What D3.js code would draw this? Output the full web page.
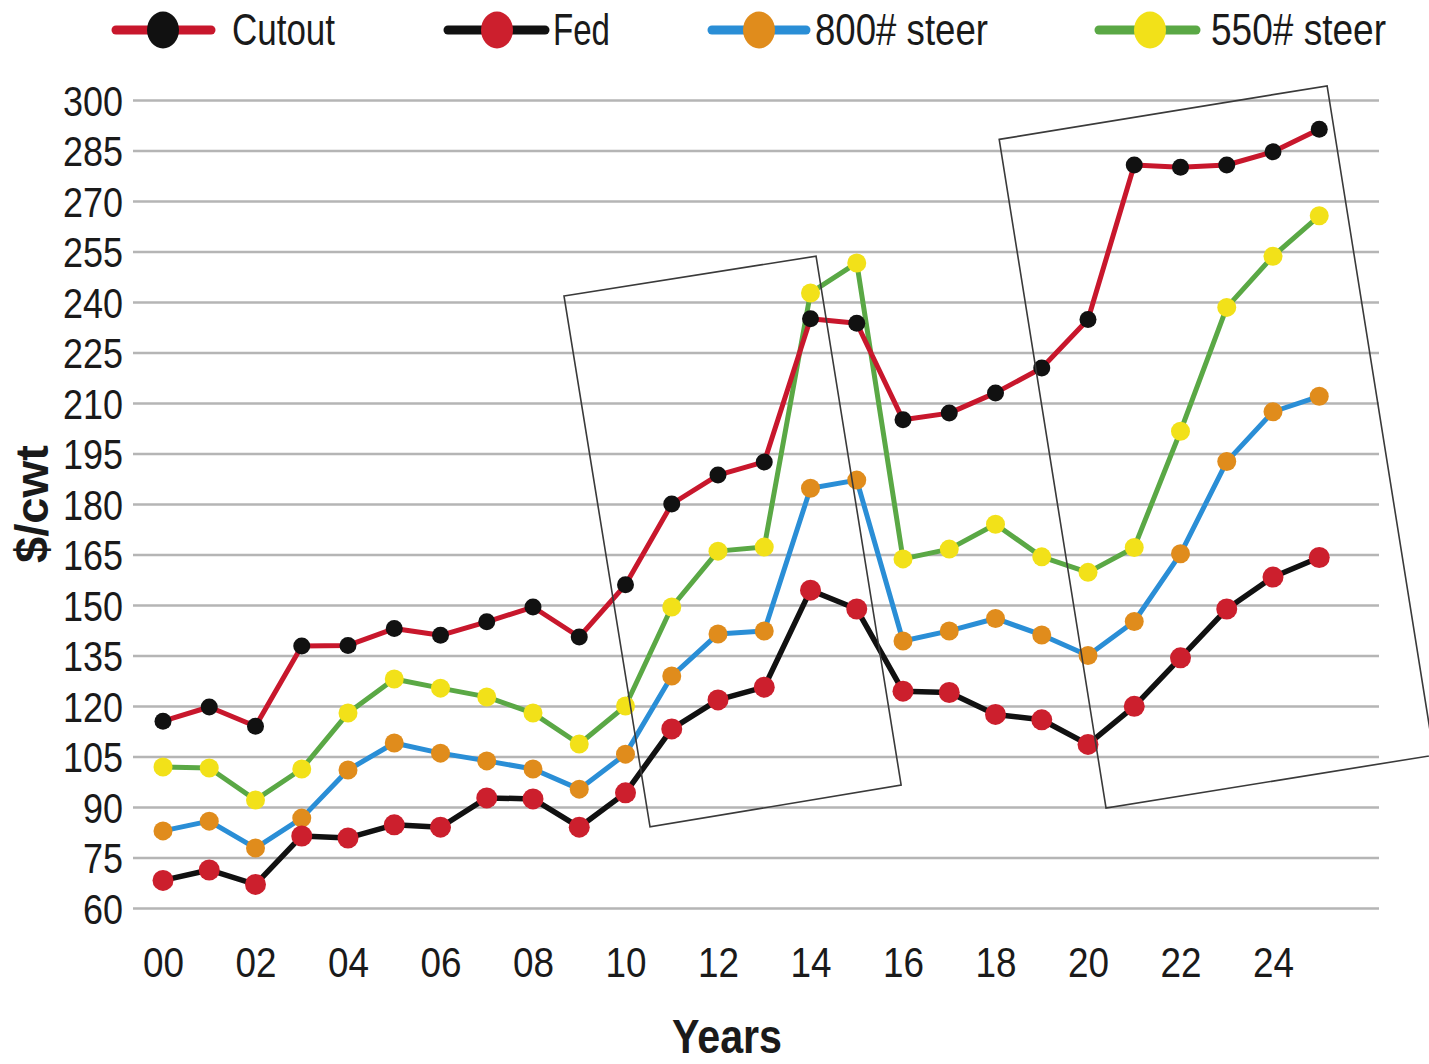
<!DOCTYPE html>
<html>
<head>
<meta charset="utf-8">
<script src="https://cdn.jsdelivr.net/npm/d3@7"></script>
<style>
  html, body { margin: 0; padding: 0; background: #fff; }
  svg { display: block; }
  text { font-family: "Liberation Sans", Arial, sans-serif; fill: #1a1a1a; }
</style>
</head>
<body>
<svg id="chart" width="1429" height="1064"></svg>
<script>
// ---- data ----
const years = d3.range(0, 26); // 2000 .. 2025
const xTickValues = [0, 2, 4, 6, 8, 10, 12, 14, 16, 18, 20, 22, 24];
const xTickLabels = ["00", "02", "04", "06", "08", "10", "12", "14", "16", "18", "20", "22", "24"];
const yTickValues = [60, 75, 90, 105, 120, 135, 150, 165, 180, 195, 210, 225, 240, 255, 270, 285, 300];

const seriesNames = ["Cutout", "Fed", "800# steer", "550# steer"];

const cutout = [115.5, 119.7, 114, 137.8, 138, 143, 141, 145, 149.4, 140.5, 156, 180, 188.6, 192.5, 235, 233.7, 205, 207, 213, 220.4, 234.8, 280.7, 280, 280.7, 284.6, 291.3];
const fed = [68.2, 71.3, 67, 81.4, 80.8, 84.7, 84, 92.7, 92.4, 84, 94.2, 113.2, 121.8, 125.6, 154.4, 148.8, 124.4, 124, 117.5, 115.9, 108.6, 119.9, 134.3, 148.8, 158.3, 164.1];
const steer800 = [82.9, 85.8, 77.8, 86.7, 101, 109, 106, 103.7, 101.3, 95.3, 105.7, 128.9, 141.4, 142.3, 184.7, 187.1, 139.3, 142.3, 146, 141.1, 135, 145.1, 165.2, 192.6, 207.4, 212];
const steer550 = [101.9, 101.6, 92.1, 101.3, 117.9, 128, 125.3, 122.7, 117.9, 108.7, 120, 149.4, 166, 167.2, 242.7, 251.6, 163.7, 166.6, 174, 164.3, 159.7, 167.1, 201.6, 238.4, 253.6, 265.6];

// annotation boxes, corners in (year, $/cwt)
const box1 = [[8.67, 241.8], [14.12, 253.6], [15.96, 96.5], [10.53, 84.1]];
const box2 = [[18.08, 288.3], [25.17, 304.2], [27.48, 105.4], [20.39, 89.7]];

// ---- styles ----
const lineColors = ["#c8172c", "#111111", "#2a8ed6", "#5aa845"];
const dotColors = ["#111111", "#cc1f2d", "#e08c1c", "#f2e119"];
const digitW = 20; // condensed digit advance

const svg = d3.select("#chart");

const x = d3.scaleLinear().domain([0, 24]).range([163, 1273]);
const y = d3.scaleLinear().domain([60, 300]).range([908, 100]);

// gridlines + y labels
const gridLeft = 133, gridRight = 1379;
const yAxis = d3.axisLeft(y)
  .tickValues(yTickValues)
  .tickSize(-(gridRight - gridLeft))
  .tickPadding(10)
  .tickFormat(d3.format("d"));
const gy = svg.append("g").attr("transform", `translate(${gridLeft},0)`).call(yAxis);
gy.select(".domain").remove();
gy.selectAll(".tick line").attr("stroke", "#b5b5b5").attr("stroke-width", 2.6);
gy.selectAll(".tick text")
  .attr("font-size", 42).attr("fill", "#1a1a1a").attr("dy", "0.36em")
  .attr("font-family", "Liberation Sans, Arial, sans-serif")
  .attr("textLength", d => String(d).length * digitW)
  .attr("lengthAdjust", "spacingAndGlyphs");

// x labels
const xAxis = d3.axisBottom(x)
  .tickValues(xTickValues)
  .tickSize(0)
  .tickPadding(0)
  .tickFormat((d, i) => xTickLabels[i]);
const gx = svg.append("g").attr("transform", `translate(0,${908})`).call(xAxis);
gx.select(".domain").remove();
gx.selectAll(".tick text")
  .attr("font-size", 43).attr("fill", "#1a1a1a").attr("dy", 0).attr("y", 69)
  .attr("font-family", "Liberation Sans, Arial, sans-serif")
  .attr("textLength", 2 * digitW + 1)
  .attr("lengthAdjust", "spacingAndGlyphs");

// axis titles
svg.append("text")
  .attr("x", 727).attr("y", 1053)
  .attr("text-anchor", "middle")
  .attr("font-size", 48).attr("font-weight", "bold")
  .attr("fill", "#111")
  .attr("textLength", 110).attr("lengthAdjust", "spacingAndGlyphs")
  .text("Years");

svg.append("text")
  .attr("transform", "translate(48,504) rotate(-90)")
  .attr("text-anchor", "middle")
  .attr("font-size", 46).attr("font-weight", "bold")
  .attr("fill", "#111")
  .attr("textLength", 118).attr("lengthAdjust", "spacingAndGlyphs")
  .text("$/cwt");

// series (drawn bottom to top)
const series = [
  { name: seriesNames[3], values: steer550, line: lineColors[3], dot: dotColors[3], r: 9.5, w: 5 },
  { name: seriesNames[2], values: steer800, line: lineColors[2], dot: dotColors[2], r: 9.5, w: 5 },
  { name: seriesNames[1], values: fed, line: lineColors[1], dot: dotColors[1], r: 10.5, w: 5.5 },
  { name: seriesNames[0], values: cutout, line: lineColors[0], dot: dotColors[0], r: 8.5, w: 5 }
];

const line = d3.line().x((d, i) => x(years[i])).y(d => y(d));

series.forEach(s => {
  const g = svg.append("g");
  g.append("path")
    .datum(s.values)
    .attr("d", line)
    .attr("fill", "none")
    .attr("stroke", s.line)
    .attr("stroke-width", s.w)
    .attr("stroke-linejoin", "round");
  g.selectAll("circle")
    .data(s.values)
    .join("circle")
    .attr("cx", (d, i) => x(years[i]))
    .attr("cy", d => y(d))
    .attr("r", s.r)
    .attr("fill", s.dot);
});

// annotation boxes
const poly = d3.line().x(d => x(d[0])).y(d => y(d[1]));
[box1, box2].forEach(b => {
  svg.append("path")
    .attr("d", poly(b) + "Z")
    .attr("fill", "none")
    .attr("stroke", "#3a3a3a")
    .attr("stroke-width", 1.6);
});

// legend
const legendItems = [
  { name: seriesNames[0], x1: 116, x2: 211, cx: 163, tx: 232, tw: 103, line: lineColors[0], dot: dotColors[0] },
  { name: seriesNames[1], x1: 448, x2: 545, cx: 497, tx: 553, tw: 57, line: lineColors[1], dot: dotColors[1] },
  { name: seriesNames[2], x1: 712, x2: 806, cx: 759, tx: 815, tw: 173, line: lineColors[2], dot: dotColors[2] },
  { name: seriesNames[3], x1: 1099, x2: 1196, cx: 1150, tx: 1211, tw: 175, line: lineColors[3], dot: dotColors[3] }
];
const lg = svg.append("g");
legendItems.forEach(it => {
  lg.append("line")
    .attr("x1", it.x1).attr("x2", it.x2).attr("y1", 30).attr("y2", 30)
    .attr("stroke", it.line).attr("stroke-width", 9).attr("stroke-linecap", "round");
  lg.append("ellipse")
    .attr("cx", it.cx).attr("cy", 30).attr("rx", 16).attr("ry", 18.5)
    .attr("fill", it.dot);
  lg.append("text")
    .attr("x", it.tx).attr("y", 45)
    .attr("font-size", 44)
    .attr("fill", "#1a1a1a")
    .attr("textLength", it.tw).attr("lengthAdjust", "spacingAndGlyphs")
    .text(it.name);
});
</script>
</body>
</html>
